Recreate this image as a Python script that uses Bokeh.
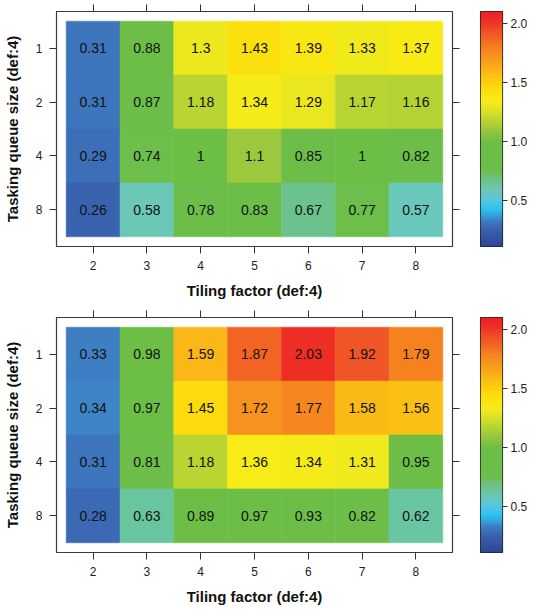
import numpy as np
from bokeh.plotting import figure
from bokeh.models import (ColumnDataSource, LinearColorMapper, FixedTicker,
                          CategoricalAxis, FactorRange, Range1d)
from bokeh.layouts import column, row
from bokeh.core.properties import value
from bokeh.embed import file_html
from bokeh.resources import INLINE

# ---------------- data ----------------
tiling = ["2", "3", "4", "5", "6", "7", "8"]
queue = ["1", "2", "4", "8"]

top_q1 = [0.31, 0.88, 1.3, 1.43, 1.39, 1.33, 1.37]
top_q2 = [0.31, 0.87, 1.18, 1.34, 1.29, 1.17, 1.16]
top_q4 = [0.29, 0.74, 1.0, 1.1, 0.85, 1.0, 0.82]
top_q8 = [0.26, 0.58, 0.78, 0.83, 0.67, 0.77, 0.57]

bot_q1 = [0.33, 0.98, 1.59, 1.87, 2.03, 1.92, 1.79]
bot_q2 = [0.34, 0.97, 1.45, 1.72, 1.77, 1.58, 1.56]
bot_q4 = [0.31, 0.81, 1.18, 1.36, 1.34, 1.31, 0.95]
bot_q8 = [0.28, 0.63, 0.89, 0.97, 0.93, 0.82, 0.62]

cb_ticks = [0.5, 1.0, 1.5, 2.0]
cb_labels = ["0.5", "1.0", "1.5", "2.0"]
x_label = "Tiling factor (def:4)"
y_label = "Tasking queue size (def:4)"

# colour scale stops (value -> colour)
stop_vals = [0.10, 0.26, 0.33, 0.42, 0.50, 0.58, 0.63, 0.68, 0.74, 1.00, 1.10, 1.18,
             1.29, 1.36, 1.44, 1.50, 1.58, 1.72, 1.80, 1.87, 1.93, 2.03, 2.10]
stop_cols = ["#2C4595", "#3A63AF", "#3E80C3", "#2AC3F0", "#55C6E3", "#6CC8B5", "#69C59C",
             "#6DC189", "#6DBE4A", "#6CBE45", "#9CC83D", "#BAD532", "#EBE71F", "#F7EC17",
             "#FCDE0C", "#FCD10E", "#FABB16", "#F7931E", "#F5801F", "#F26524", "#F05227",
             "#EE2D25", "#ED2024"]
cmap_low, cmap_high = 0.11, 2.10

FONT = "Liberation Sans"
TICK_COL = "#333333"


def build_palette(lo, hi, n=256):
    vs = np.array(stop_vals)
    rgb = np.array([[int(c[i:i + 2], 16) for i in (1, 3, 5)] for c in stop_cols], float)
    grid = np.linspace(lo, hi, n)
    pal = []
    for g in grid:
        r, gg, b = (int(round(np.interp(g, vs, rgb[:, k]))) for k in range(3))
        pal.append("#%02x%02x%02x" % (r, gg, b))
    return pal


palette = build_palette(cmap_low, cmap_high)


def make_panel(rows, left, top, bottom, fw, fh, gap):
    mapper = LinearColorMapper(palette=palette, low=cmap_low, high=cmap_high)
    xs, ys, vs, labs = [], [], [], []
    for q, r in zip(queue, rows):
        for t, v in zip(tiling, r):
            xs.append(t)
            ys.append(q)
            vs.append(v)
            labs.append(f"{v:g}")
    src = ColumnDataSource(dict(x=xs, y=ys, v=vs, label=labs))

    p = figure(x_range=FactorRange(factors=tiling, range_padding=0.18, range_padding_units="absolute"),
               y_range=FactorRange(factors=queue[::-1], range_padding=0.18, range_padding_units="absolute"),
               frame_width=fw, frame_height=fh, output_backend="svg", toolbar_location=None,
               min_border_left=left, min_border_top=top, min_border_bottom=bottom,
               min_border_right=gap)
    p.grid.visible = False
    p.outline_line_color = "#3a3a3a"
    p.outline_line_width = 1.2
    p.background_fill_color = "white"

    p.rect(x="x", y="y", width=1, height=1, source=src,
           fill_color={"field": "v", "transform": mapper},
           line_color={"field": "v", "transform": mapper}, line_width=0.5)
    p.text(x="x", y="y", text="label", source=src, text_align="center",
           text_baseline="middle", text_font=value(FONT), text_font_size="14px",
           text_color="#111111")

    for ax in (p.xaxis[0], p.yaxis[0]):
        ax.axis_line_color = None
        ax.major_tick_out = 7
        ax.major_tick_in = 0
        ax.major_tick_line_color = TICK_COL
        ax.major_label_text_font = FONT
        ax.major_label_text_font_size = "12px"
        ax.major_label_text_color = "#222222"
        ax.axis_label_text_font = FONT
        ax.axis_label_text_font_size = "15px"
        ax.axis_label_text_font_style = "bold"
        ax.axis_label_text_color = "#111111"
        ax.major_label_standoff = 7
        ax.axis_label_standoff = 9
    p.xaxis[0].axis_label = x_label
    p.yaxis[0].axis_label = y_label
    p.yaxis[0].major_label_orientation = "horizontal"
    p.yaxis[0].axis_label_standoff = 12

    top_ax = CategoricalAxis(axis_line_color=None, major_tick_out=7, major_tick_in=0,
                             major_tick_line_color=TICK_COL, major_label_text_font_size="1px",
                             major_label_overrides={f: "" for f in tiling},
                             major_label_standoff=0)
    right_ax = CategoricalAxis(axis_line_color=None, major_tick_out=7, major_tick_in=0,
                               major_tick_line_color=TICK_COL, major_label_text_font_size="1px",
                               major_label_overrides={f: "" for f in queue},
                               major_label_standoff=0)
    p.add_layout(top_ax, "above")
    p.add_layout(right_ax, "right")

    # colour key: same mapper, drawn as an image over the mapper's value range
    c = figure(x_range=Range1d(0, 1), y_range=Range1d(cmap_low, cmap_high),
               frame_width=22, frame_height=fh, output_backend="svg", toolbar_location=None,
               y_axis_location="right", min_border_left=0, min_border_right=24,
               min_border_top=top, min_border_bottom=bottom)
    grad = np.linspace(cmap_low, cmap_high, 256).reshape(-1, 1)
    c.image(image=[grad], x=0, y=cmap_low, dw=1, dh=cmap_high - cmap_low, color_mapper=mapper)
    c.grid.visible = False
    c.xaxis.visible = False
    c.outline_line_color = "#222222"
    c.outline_line_width = 1.2
    ay = c.yaxis[0]
    ay.ticker = FixedTicker(ticks=cb_ticks)
    ay.major_label_overrides = {t: l for t, l in zip(cb_ticks, cb_labels)}
    ay.axis_line_color = None
    ay.major_tick_out = 5
    ay.major_tick_in = 0
    ay.minor_tick_line_color = None
    ay.major_tick_line_color = TICK_COL
    ay.major_label_standoff = 3
    ay.major_label_text_font = FONT
    ay.major_label_text_font_size = "12px"
    ay.major_label_text_color = "#222222"
    return row(p, c, spacing=0)


p1 = make_panel([top_q1, top_q2, top_q4, top_q8], left=51, top=9, bottom=52, fw=396, fh=235, gap=28)
p2 = make_panel([bot_q1, bot_q2, bot_q4, bot_q8], left=46, top=16, bottom=52, fw=396, fh=235, gap=28)

layout = column(p1, p2, spacing=0)
open("out.html", "w").write(file_html(layout, INLINE))
